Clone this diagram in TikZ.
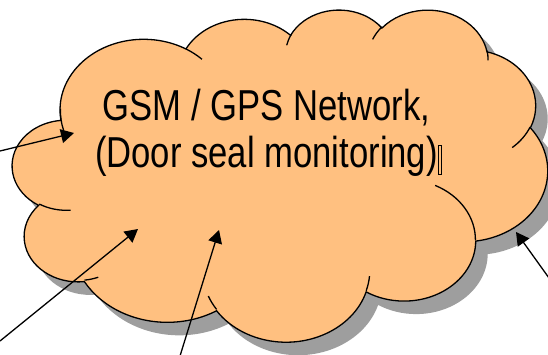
\documentclass[tikz,border=0pt]{standalone}
\usepackage{fontspec}
\setmainfont{Liberation Sans}[FakeStretch=0.8]
\usetikzlibrary{arrows.meta}
\definecolor{cloudfill}{RGB}{255,192,128}
\definecolor{cloudshadow}{RGB}{158,158,158}
% geometric (DrawingML) angles -> parametric angles
\newcommand\cldcalc[5]{%
  \pgfmathsetmacro\cldtmpa{atan2(#2*sin(#4), #3*cos(#4))}%
  \pgfmathsetmacro\cldtmpb{atan2(#2*sin(#4+#5), #3*cos(#4+#5))}%
  \pgfmathsetmacro\cldtmpd{\cldtmpb-\cldtmpa}%
  \ifdim #5pt>0pt
    \ifdim \cldtmpd pt<0pt \pgfmathsetmacro\cldtmpb{\cldtmpb+360}\fi
  \else
    \ifdim \cldtmpd pt>0pt \pgfmathsetmacro\cldtmpb{\cldtmpb-360}\fi
  \fi
  \expandafter\let\csname cld#1s\endcsname\cldtmpa
  \expandafter\let\csname cld#1e\endcsname\cldtmpb
}
\newcommand\cldarc[3]{arc[x radius=#2, y radius=#3, start angle=\csname cld#1s\endcsname, end angle=\csname cld#1e\endcsname]}
\tikzset{
  cloudline/.style={line width=1.3pt, black},
  pointer/.style={line width=1.3pt, black, -{Triangle[length=13pt, width=14pt]}},
  labeltext/.style={align=center, inner sep=0pt, font=\fontsize{43.3}{47}\selectfont}
}
\begin{document}
\begin{tikzpicture}[x=1pt, y=-1pt]
\useasboundingbox (0,0) rectangle (548,355);
% outline arcs
\cldcalc{A}{67.53}{91.90}{-190.4874833}{123.7805333}
\cldcalc{B}{53.33}{72.67}{-144.1023833}{89.9452333}
\cldcalc{C}{43.65}{59.45}{-145.8079167}{99.7230167}
\cldcalc{D}{48.57}{65.95}{-130.9860667}{117.2417333}
\cldcalc{E}{53.33}{72.73}{-78.7088833}{109.0269167}
\cldcalc{F}{67.75}{92.20}{-46.26725}{130.269}
\cldcalc{G}{57.85}{78.67}{0.6250167}{114.0333333}
\cldcalc{H}{67.52}{92.15}{22.4516}{115.17255}
\cldcalc{I}{77.20}{105.43}{66.2426333}{75.7110167}
\cldcalc{J}{43.60}{59.18}{-274.9420833}{146.7355667}
\cldcalc{K}{43.45}{59.45}{-246.8285}{152.51885}
% inner tails
\cldcalc{a}{43.45}{59.45}{86.742}{26.4295}
\cldcalc{b}{43.60}{59.18}{73.61047}{11.44747}
\cldcalc{c}{67.52}{92.15}{137.62415}{14.0811}
\cldcalc{d}{67.52}{92.15}{6.45327}{15.99835}
\cldcalc{e}{57.85}{78.67}{-70.29235}{70.91737}
\cldcalc{f}{53.33}{72.73}{30.31803}{27.7515}
\cldcalc{g}{48.57}{65.95}{-13.74433}{14.86438}
\cldcalc{h}{48.57}{65.95}{-149.18145}{18.19677}
\cldcalc{i}{43.65}{59.45}{-163.49427}{17.69078}
\cldcalc{j}{67.53}{91.90}{-66.70695}{12.31935}
\cldcalc{k}{67.53}{91.90}{158.77207}{23.72675}
\def\cldoutline{(39.00,143.70) \cldarc{A}{67.53}{91.90} \cldarc{B}{53.33}{72.67}
  \cldarc{C}{43.65}{59.45} \cldarc{D}{48.57}{65.95} \cldarc{E}{53.33}{72.73}
  \cldarc{F}{67.75}{92.20} \cldarc{G}{57.85}{78.67} \cldarc{H}{67.52}{92.15}
  \cldarc{I}{77.20}{105.43} \cldarc{J}{43.60}{59.18} \cldarc{K}{43.45}{59.45} -- cycle}
% shadow
\begin{scope}[shift={(24.5pt,-22pt)}, x=1.238426pt, y=-0.768519pt]
  \fill[cloudshadow] \cldoutline;
\end{scope}
% cloud
\begin{scope}[shift={(12.5pt,-9pt)}, x=1.238426pt, y=-0.768519pt]
  \filldraw[cloudline, fill=cloudfill] \cldoutline;
  \draw[cloudline]
    (46.93,261.77) \cldarc{a}{43.45}{59.45}
    (69.28,348.99) \cldarc{b}{43.60}{59.18}
    (164.78,390.90) \cldarc{c}{67.52}{92.15}
    (288.27,347.51) \cldarc{d}{67.52}{92.15}
    (341.29,229.54) \cldarc{e}{57.85}{78.67}
    (417.98,153.54) \cldarc{f}{53.33}{72.73}
    (383.24,54.26) \cldarc{g}{48.57}{65.95}
    (290.78,39.52) \cldarc{h}{48.57}{65.95}
    (221.41,47.20) \cldarc{i}{43.65}{59.45}
    (140.00,51.92) \cldarc{j}{67.53}{91.90}
    (41.27,157.89) \cldarc{k}{67.53}{91.90};
\end{scope}
% label
\node[labeltext, anchor=base] (label) at (266.5,168) {GSM / GPS Network,\\(Door seal monitoring)};
\draw[line width=0.6pt] (438,145) rectangle (441,174);
% pointers
\coordinate (s1) at (0,151);   \coordinate (t1) at (74,133);
\coordinate (s2) at (0,341);   \coordinate (t2) at (138,229);
\coordinate (s3) at (180,356); \coordinate (t3) at (219,230);
\coordinate (s4) at (549,278); \coordinate (t4) at (516,232);
\draw[pointer] (s1) -- (t1);
\draw[pointer] (s2) -- (t2);
\draw[pointer] (s3) -- (t3);
\draw[pointer] (s4) -- (t4);
\end{tikzpicture}
\end{document}
